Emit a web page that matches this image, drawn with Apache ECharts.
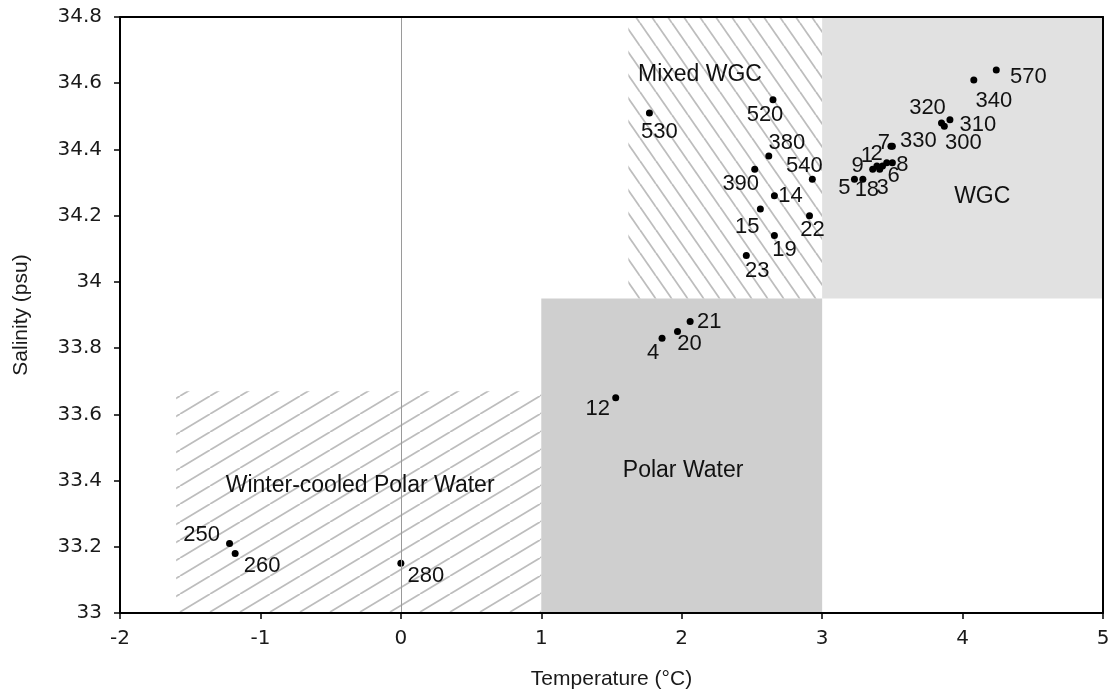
<!DOCTYPE html>
<html>
<head>
<meta charset="utf-8">
<script src="https://cdn.jsdelivr.net/npm/echarts@6/dist/echarts.min.js"></script>
<style>
html, body { margin: 0; padding: 0; background: #fff; }
#chart { width: 1117px; height: 695px; }
</style>
</head>
<body>
<div id="chart"></div>
<script>
// stations: label, temperature (°C), salinity (psu)
const stations = ['530', '520', '380', '390', '540', '14', '15', '22', '19', '23',
  '21', '20', '4', '12', '250', '260', '280',
  '570', '340', '320', '300', '310', '330', '7', '1', '2', '9', '3', '6', '8', '18', '5'];
const temps = [1.77, 2.65, 2.62, 2.52, 2.93, 2.66, 2.56, 2.91, 2.66, 2.46,
  2.06, 1.97, 1.86, 1.53, -1.22, -1.18, 0.0,
  4.24, 4.08, 3.85, 3.87, 3.91, 3.50, 3.49, 3.39, 3.43, 3.36, 3.41, 3.46, 3.50, 3.29, 3.23];
const salts = [34.51, 34.55, 34.38, 34.34, 34.31, 34.26, 34.22, 34.20, 34.14, 34.08,
  33.88, 33.85, 33.83, 33.65, 33.21, 33.18, 33.15,
  34.64, 34.61, 34.48, 34.47, 34.49, 34.41, 34.41, 34.35, 34.35, 34.34, 34.34, 34.36, 34.36, 34.31, 34.31];

// water mass boxes
const regionNames = ['Winter-cooled Polar Water', 'Polar Water', 'Mixed WGC', 'WGC'];
const regionTMin = [-1.6, 1, 1.62, 3];
const regionTMax = [1, 3, 3, 5];
const regionSMin = [33, 33, 33.95, 33.95];
const regionSMax = [33.67, 33.95, 34.8, 34.8];
// where the box names sit (data coords)
const regionLabelT = [-0.29, 2.01, 2.13, 4.14];
const regionLabelS = [33.385, 33.43, 34.625, 34.257];

// label offsets in px from the dot (layout only)
const labelOffsets = {
  '530': [10, 19], '520': [-8, 15], '380': [18, -13], '390': [-14, 15], '540': [-8, -13],
  '14': [16, 0], '15': [-13, 18], '22': [3, 14], '19': [10, 14], '23': [11, 16],
  '21': [19, 0], '20': [12, 12], '4': [-9, 15], '12': [-18, 11],
  '250': [-28, -9], '260': [27, 13], '280': [25, 13],
  '570': [32, 7], '340': [20, 21], '320': [-14, -15], '300': [19, 17], '310': [28, 5],
  '330': [26, -5], '7': [-7, -3], '1': [-10, -10], '2': [-6, -12], '9': [-15, -3],
  '3': [3, 19], '6': [7, 13], '8': [10, 2], '18': [4, 11], '5': [-10, 9]
};

// hatch pattern tile
function hatch(w, h, up) {
  const c = document.createElement('canvas');
  c.width = w;
  c.height = h;
  const g = c.getContext('2d');
  g.strokeStyle = '#bdbdbd';
  g.lineWidth = 1.8;
  for (let k = -1; k <= 1; k++) {
    g.beginPath();
    if (up) {
      g.moveTo(k * w, h);
      g.lineTo(k * w + w, 0);
    } else {
      g.moveTo(k * w, 0);
      g.lineTo(k * w + w, h);
    }
    g.stroke();
  }
  return { image: c, repeat: 'repeat' };
}

const fills = [hatch(30, 18, true), '#cfcfcf', hatch(16, 23, false), '#e1e1e1'];

const boxData = regionNames.map((n, i) => [regionTMin[i], regionTMax[i], regionSMin[i], regionSMax[i]]);

const pointData = stations.map((s, i) => ({
  name: s,
  value: [temps[i], salts[i]],
  label: { offset: labelOffsets[s] }
}));

const regionLabelData = regionNames.map((n, i) => ({
  name: n,
  value: [regionLabelT[i], regionLabelS[i]]
}));

const chart = echarts.init(document.getElementById('chart'));

const axisLine = { show: true, onZero: false, lineStyle: { color: '#000', width: 2 } };
const tickFont = { fontFamily: 'DejaVu Sans', fontSize: 20, color: '#1a1a1a' };
const nameFont = { fontFamily: 'Liberation Sans', fontSize: 21, color: '#1a1a1a' };

chart.setOption({
  animation: false,
  grid: { left: 120, right: 14, top: 17, bottom: 81 },
  xAxis: [
    {
      type: 'value', min: -2, max: 5, interval: 1, z: 10,
      axisLine: axisLine,
      axisTick: { show: true, inside: false, length: 6, lineStyle: { color: '#000', width: 1.5 } },
      axisLabel: Object.assign({ margin: 16 }, tickFont),
      splitLine: { show: false },
      name: 'Temperature (°C)', nameLocation: 'middle', nameGap: 56,
      nameTextStyle: nameFont
    },
    {
      type: 'value', position: 'top', min: -2, max: 5, z: 10,
      axisLine: axisLine, axisTick: { show: false }, axisLabel: { show: false }, splitLine: { show: false }
    }
  ],
  yAxis: [
    {
      type: 'value', min: 33, max: 34.8, interval: 0.2, z: 10,
      axisLine: axisLine,
      axisTick: { show: true, inside: false, length: 6, lineStyle: { color: '#000', width: 1.5 } },
      axisLabel: Object.assign({ margin: 18 }, tickFont),
      splitLine: { show: false },
      name: 'Salinity (psu)', nameLocation: 'middle', nameGap: 88,
      nameTextStyle: nameFont
    },
    {
      type: 'value', position: 'right', min: 33, max: 34.8, z: 10,
      axisLine: axisLine, axisTick: { show: false }, axisLabel: { show: false }, splitLine: { show: false }
    }
  ],
  series: [
    {
      // shaded / hatched water mass boxes
      type: 'custom',
      z: 1,
      silent: true,
      data: boxData,
      encode: { x: [0, 1], y: [2, 3] },
      renderItem: function (params, api) {
        const p0 = api.coord([api.value(0), api.value(3)]);
        const p1 = api.coord([api.value(1), api.value(2)]);
        return {
          type: 'rect',
          shape: { x: p0[0], y: p0[1], width: p1[0] - p0[0], height: p1[1] - p0[1] },
          style: { fill: fills[params.dataIndex] }
        };
      }
    },
    {
      // box names
      type: 'scatter',
      z: 3,
      silent: true,
      symbolSize: 0,
      itemStyle: { opacity: 1 },
      data: regionLabelData,
      label: {
        show: true, position: 'inside', formatter: '{b}',
        fontFamily: 'Liberation Sans', fontSize: 23, color: '#111', textBorderWidth: 0
      }
    },
    {
      type: 'scatter',
      z: 4,
      symbolSize: 7,
      itemStyle: { color: '#000', opacity: 1 },
      data: pointData,
      label: {
        show: true, position: 'inside', formatter: '{b}',
        fontFamily: 'Liberation Sans', fontSize: 22, color: '#111', textBorderWidth: 0
      },
      markLine: {
        silent: true,
        symbol: 'none',
        label: { show: false },
        lineStyle: { color: '#9a9a9a', width: 1, type: 'solid' },
        data: [{ xAxis: 0 }]
      }
    }
  ]
});
</script>
</body>
</html>
